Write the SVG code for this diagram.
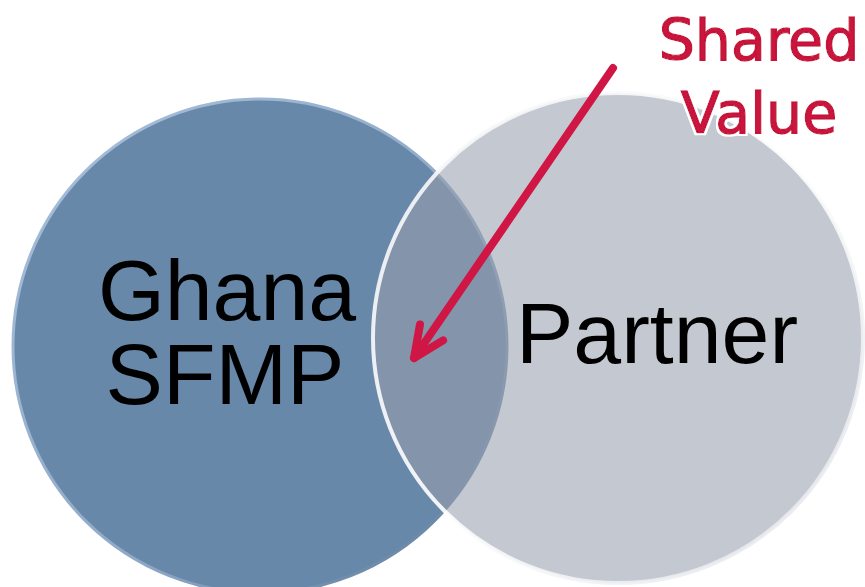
<svg xmlns="http://www.w3.org/2000/svg" width="865" height="587" viewBox="0 0 865 587">
  <style>
    .big { font-family: "Liberation Sans", Arial, sans-serif; font-size: 86px; fill: #000; }
    .sv { font-family: "DejaVu Sans", Verdana, sans-serif; font-size: 57px; fill: #c8123e; stroke: #c8123e; stroke-width: 1.4; text-anchor: middle; filter: url(#outline); }
    .arrow { stroke: #cf1644; stroke-width: 8; stroke-linecap: round; stroke-linejoin: round; fill: none; }
  </style>
  <defs>
    <linearGradient id="rimL" x1="0" y1="0" x2="1" y2="1">
      <stop offset="0" stop-color="#a8c0dc"/>
      <stop offset="0.6" stop-color="#8ea8c6"/>
      <stop offset="1" stop-color="#5a7898"/>
    </linearGradient>
    <linearGradient id="rimR" x1="0" y1="0" x2="1" y2="1">
      <stop offset="0" stop-color="#f4f5f8"/>
      <stop offset="0.5" stop-color="#ffffff"/>
      <stop offset="1" stop-color="#dfe2e8"/>
    </linearGradient>
    <filter id="outline" x="-10%" y="-20%" width="120%" height="140%">
      <feMorphology in="SourceAlpha" operator="dilate" radius="2" result="d"/>
      <feFlood flood-color="#ffffff"/>
      <feComposite in2="d" operator="in" result="w"/>
      <feMerge>
        <feMergeNode in="w"/>
        <feMergeNode in="SourceGraphic"/>
      </feMerge>
    </filter>
    <marker id="head" markerUnits="userSpaceOnUse" markerWidth="80" markerHeight="80" viewBox="-40 -40 80 80" refX="0" refY="0" orient="auto" overflow="visible">
      <path d="M -31 -14 L 0 0 L -31 14" class="arrow"/>
    </marker>
  </defs>
  <rect width="865" height="587" fill="#ffffff"/>
  <g id="node-ghana">
    <circle cx="260" cy="346" r="247" fill="#6888aa" stroke="url(#rimL)" stroke-width="3"/>
    <text class="big" x="227" y="320" text-anchor="middle">Ghana</text>
    <text class="big" x="225" y="404" text-anchor="middle">SFMP</text>
  </g>
  <g id="node-partner">
    <circle cx="618" cy="338" r="245" fill="#989eac" fill-opacity="0.57" stroke="url(#rimR)" stroke-width="4" stroke-opacity="0.9"/>
    <text class="big" x="516" y="363">Partner</text>
  </g>
  <g id="connectors">
    <line x1="613" y1="68" x2="414" y2="358" class="arrow" marker-end="url(#head)"/>
  </g>
  <g id="label-shared-value">
    <text class="sv" x="759" y="60">Shared</text>
    <text class="sv" x="759" y="133">Value</text>
  </g>
</svg>
